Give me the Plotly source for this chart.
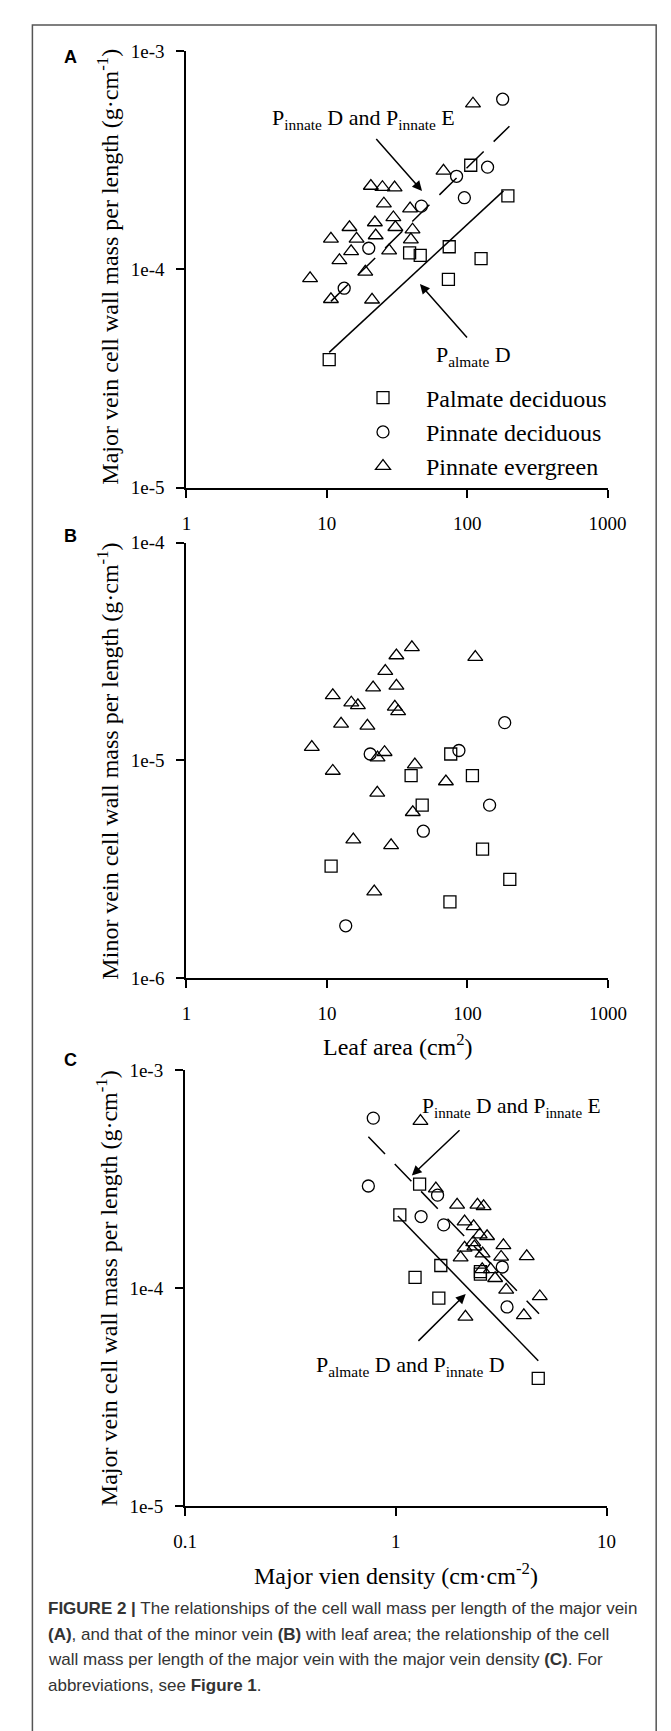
import plotly.graph_objects as go

W, H = 671, 1731

# ---------------- data ----------------
# Panel A: major vein cell wall mass per length vs leaf area
A_pal_dec_x = [10.4, 106, 195, 38.9, 46.3, 74.5, 125.6, 73.5]
A_pal_dec_y = [3.86e-5, 3.0e-4, 2.17e-4, 1.19e-4, 1.16e-4, 1.27e-4, 1.12e-4, 9.0e-5]
A_pin_dec_x = [179, 139.7, 84, 95.5, 47.2, 19.9, 13.3]
A_pin_dec_y = [6.02e-4, 2.94e-4, 2.67e-4, 2.13e-4, 1.95e-4, 1.25e-4, 8.2e-5]
A_pin_eve_x = [110, 67.8, 20.6, 24.9, 30.4, 25.5, 39.2, 29.8, 30.8, 14.5, 22.0, 40.8,
               10.7, 16.3, 22.3, 39.7, 14.9, 27.8, 12.3, 18.8, 7.6, 10.7, 21.0]
A_pin_eve_y = [5.74e-4, 2.83e-4, 2.41e-4, 2.38e-4, 2.37e-4, 2.0e-4, 1.90e-4, 1.73e-4,
               1.56e-4, 1.56e-4, 1.64e-4, 1.52e-4, 1.38e-4, 1.38e-4, 1.43e-4, 1.37e-4,
               1.21e-4, 1.22e-4, 1.10e-4, 9.75e-5, 9.1e-5, 7.3e-5, 7.26e-5]
A_fit_pal_x = [10.4, 181.5]
A_fit_pal_y = [4.17e-5, 2.29e-4]
A_fit_pin_x = [10.7, 200]
A_fit_pin_y = [7.14e-5, 4.53e-4]

# Panel B: minor vein cell wall mass per length vs leaf area
B_pal_dec_x = [10.7, 39.7, 47.6, 76.0, 108.4, 128, 200, 75]
B_pal_dec_y = [3.27e-6, 8.52e-6, 6.23e-6, 1.07e-5, 8.52e-6, 3.91e-6, 2.84e-6, 2.24e-6]
B_pin_dec_x = [184, 86.9, 20.3, 143.6, 48.5, 13.6]
B_pin_dec_y = [1.49e-5, 1.11e-5, 1.07e-5, 6.23e-6, 4.73e-6, 1.74e-6]
B_pin_eve_x = [40.2, 31.2, 113.6, 26.0, 21.3, 31.2, 11.0, 14.9, 16.6, 30.4, 32.1, 12.6,
               19.4, 7.8, 25.7, 22.9, 42.2, 11.0, 70.2, 22.8, 40.8, 15.4, 28.6, 21.7]
B_pin_eve_y = [3.30e-5, 3.03e-5, 2.98e-5, 2.57e-5, 2.16e-5, 2.20e-5, 1.99e-5, 1.84e-5,
               1.79e-5, 1.76e-5, 1.68e-5, 1.47e-5, 1.44e-5, 1.15e-5, 1.09e-5, 1.03e-5,
               9.57e-6, 8.94e-6, 8.0e-6, 7.1e-6, 5.78e-6, 4.33e-6, 4.07e-6, 2.50e-6]

# Panel C: major vein cell wall mass per length vs major vein density
C_pal_dec_x = [1.297, 1.045, 1.635, 1.234, 1.60, 2.52, 2.52, 4.74]
C_pal_dec_y = [3.0e-4, 2.17e-4, 1.27e-4, 1.12e-4, 9.0e-5, 1.19e-4, 1.16e-4, 3.86e-5]
C_pin_dec_x = [0.782, 0.741, 1.578, 1.318, 1.687, 3.20, 3.37]
C_pin_dec_y = [6.02e-4, 2.94e-4, 2.67e-4, 2.13e-4, 1.95e-4, 1.25e-4, 8.2e-5]
C_pin_eve_x = [1.309, 1.549, 1.954, 2.44, 2.61, 2.12, 2.34, 2.50, 2.71, 2.33, 3.24, 2.12,
               2.36, 2.58, 2.03, 3.16, 4.18, 2.57, 2.82, 2.96, 3.34, 4.82, 4.05, 2.14]
C_pin_eve_y = [5.83e-4, 2.86e-4, 2.41e-4, 2.41e-4, 2.37e-4, 2.02e-4, 1.92e-4, 1.76e-4,
               1.73e-4, 1.62e-4, 1.57e-4, 1.53e-4, 1.55e-4, 1.44e-4, 1.38e-4, 1.39e-4,
               1.40e-4, 1.22e-4, 1.22e-4, 1.11e-4, 9.82e-5, 9.16e-5, 7.5e-5, 7.38e-5]
C_fit_pin_x = [0.741, 4.78]
C_fit_pin_y = [4.95e-4, 7.64e-5]
C_fit_pal_x = [1.023, 4.74]
C_fit_pal_y = [2.14e-4, 4.65e-5]

group_names = ["Palmate deciduous", "Pinnate deciduous", "Pinnate evergreen"]

x_ticks_leaf = [1, 10, 100, 1000]
x_ticktext_leaf = ["1", "10", "100", "1000"]
x_ticks_dens = [0.1, 1, 10]
x_ticktext_dens = ["0.1", "1", "10"]
y_ticks_A = [1e-5, 1e-4, 1e-3]
y_ticktext_A = ["1e-5", "1e-4", "1e-3"]
y_ticks_B = [1e-6, 1e-5, 1e-4]
y_ticktext_B = ["1e-6", "1e-5", "1e-4"]

# ---------------- helpers ----------------
SERIF = "Liberation Serif, Times New Roman, serif"
SANS = "Liberation Sans, Arial, sans-serif"


def px(xp):
    return xp / W


def py(yp):
    return 1 - yp / H


fig = go.Figure()

symbols = ["square-open", "circle-open", "triangle-up-open"]
sizes = [12, 12, 13]


def add_groups(xs, ys, xa, ya, legend):
    for i, (x, y) in enumerate(zip(xs, ys)):
        fig.add_trace(go.Scatter(
            x=x, y=y, mode="markers", name=group_names[i],
            xaxis=xa, yaxis=ya, showlegend=legend,
            marker=dict(symbol=symbols[i], size=sizes[i], color="black",
                        line=dict(width=1.3, color="black")),
        ))


add_groups([A_pal_dec_x, A_pin_dec_x, A_pin_eve_x],
           [A_pal_dec_y, A_pin_dec_y, A_pin_eve_y], "x", "y", True)
add_groups([B_pal_dec_x, B_pin_dec_x, B_pin_eve_x],
           [B_pal_dec_y, B_pin_dec_y, B_pin_eve_y], "x2", "y2", False)
add_groups([C_pal_dec_x, C_pin_dec_x, C_pin_eve_x],
           [C_pal_dec_y, C_pin_dec_y, C_pin_eve_y], "x3", "y3", False)

# fitted lines
fig.add_trace(go.Scatter(x=A_fit_pal_x, y=A_fit_pal_y, mode="lines", xaxis="x", yaxis="y",
                         showlegend=False, line=dict(color="black", width=1.5)))
fig.add_trace(go.Scatter(x=A_fit_pin_x, y=A_fit_pin_y, mode="lines", xaxis="x", yaxis="y",
                         showlegend=False, line=dict(color="black", width=1.5, dash="24px,14px")))
fig.add_trace(go.Scatter(x=C_fit_pal_x, y=C_fit_pal_y, mode="lines", xaxis="x3", yaxis="y3",
                         showlegend=False, line=dict(color="black", width=1.5)))
fig.add_trace(go.Scatter(x=C_fit_pin_x, y=C_fit_pin_y, mode="lines", xaxis="x3", yaxis="y3",
                         showlegend=False, line=dict(color="black", width=1.5, dash="24px,14px")))

axis_common = dict(
    type="log", showline=True, linecolor="black", linewidth=2,
    ticks="outside", ticklen=8, tickwidth=2, tickcolor="black",
    showgrid=False, zeroline=False, mirror=False,
    tickfont=dict(family=SERIF, size=19, color="black"),
)

fig.update_layout(
    width=W, height=H, autosize=False,
    margin=dict(l=0, r=0, t=0, b=0),
    paper_bgcolor="white", plot_bgcolor="white",
    xaxis=dict(axis_common, domain=[px(174.5), px(616)], range=[0, 3], anchor="y",
               tickvals=x_ticks_leaf, ticktext=x_ticktext_leaf, ticklabelstandoff=9),
    yaxis=dict(axis_common, domain=[py(475.5), py(33.5)], range=[-5, -3], anchor="x",
               tickvals=y_ticks_A, ticktext=y_ticktext_A, ticklabelstandoff=8),
    xaxis2=dict(axis_common, domain=[px(174.5), px(616.5)], range=[0, 3], anchor="y2",
                tickvals=x_ticks_leaf, ticktext=x_ticktext_leaf, ticklabelstandoff=9),
    yaxis2=dict(axis_common, domain=[py(972), py(531)], range=[-6, -4], anchor="x2",
                tickvals=y_ticks_B, ticktext=y_ticktext_B, ticklabelstandoff=8),
    xaxis3=dict(axis_common, domain=[px(173), px(615)], range=[-1, 1], anchor="y3",
                tickvals=x_ticks_dens, ticktext=x_ticktext_dens, ticklabelstandoff=9),
    yaxis3=dict(axis_common, domain=[py(1506.5), py(1065)], range=[-5, -3], anchor="x3",
                tickvals=y_ticks_A, ticktext=y_ticktext_A, ticklabelstandoff=8),
    legend=dict(x=px(335.5), y=py(362), xanchor="left", yanchor="top",
                font=dict(family=SERIF, size=24, color="black"),
                bgcolor="rgba(0,0,0,0)", itemwidth=76, tracegroupgap=0,
                itemclick=False),
    showlegend=True,
)

annotations = []


def text_ann(x, y, text, size=22, font=SERIF, angle=0, xanchor="center", color="black"):
    annotations.append(dict(
        x=px(x), y=py(y), xref="paper", yref="paper", text=text, showarrow=False,
        textangle=angle, xanchor=xanchor, yanchor="middle",
        font=dict(family=font, size=size, color=color),
    ))


def arrow_ann(hx, hy, tx, ty):
    annotations.append(dict(
        x=px(hx), y=py(hy), xref="paper", yref="paper", text="", showarrow=True,
        ax=tx - hx, ay=ty - hy, arrowhead=2, arrowsize=1.3, arrowwidth=1.5,
        arrowcolor="black", standoff=0, startstandoff=0,
    ))


# panel letters
text_ann(53, 39, "<b>A</b>", size=18, font=SANS)
text_ann(53, 524, "<b>B</b>", size=18, font=SANS)
text_ann(53, 1055, "<b>C</b>", size=18, font=SANS)

# axis titles
text_ann(92, 252, "Major vein cell wall mass per length (g·cm<sup>-1</sup>)", size=24, angle=-90)
text_ann(92, 752, "Minor vein cell wall mass per length (g·cm<sup>-1</sup>)", size=24, angle=-90)
text_ann(92, 1286, "Major vein cell wall mass per length (g·cm<sup>-1</sup>)", size=24, angle=-90)
text_ann(396, 1040, "Leaf area (cm<sup>2</sup>)", size=24)
text_ann(394, 1575, "Major vien density (cm·cm<sup>-2</sup>)", size=24)

# regression annotations
text_ann(360, 102, "P<sub>innate</sub> D and P<sub>innate</sub> E", size=22)
arrow_ann(421.5, 175, 374.4, 121.7)
text_ann(475, 342, "P<sub>almate</sub> D", size=22)
arrow_ann(419.3, 269.3, 467.7, 324.3)
text_ann(515, 1103, "P<sub>innate</sub> D and P<sub>innate</sub> E", size=21.5)
arrow_ann(410.8, 1171.7, 460, 1125)
text_ann(409, 1365, "P<sub>almate</sub> D and P<sub>innate</sub> D", size=22)
arrow_ann(467.3, 1291.7, 418.5, 1340)

# caption
caption_lines = [
    "<b>FIGURE 2 |</b> The relationships of the cell wall mass per length of the major vein",
    "<b>(A)</b>, and that of the minor vein <b>(B)</b> with leaf area; the relationship of the cell",
    "wall mass per length of the major vein with the major vein density <b>(C)</b>. For",
    "abbreviations, see <b>Figure 1</b>.",
]
for i, line in enumerate(caption_lines):
    text_ann(27, 1610 + i * 26, line, size=17.0, font=SANS, xanchor="left", color="#333333")

fig.update_layout(annotations=annotations)

# outer frame
fig.add_shape(type="rect", xref="paper", yref="paper",
              x0=px(13), x1=px(667), y0=py(7), y1=py(1760),
              line=dict(color="#555555", width=1.5), fillcolor="rgba(0,0,0,0)", layer="below")

fig.write_html("out.html")
